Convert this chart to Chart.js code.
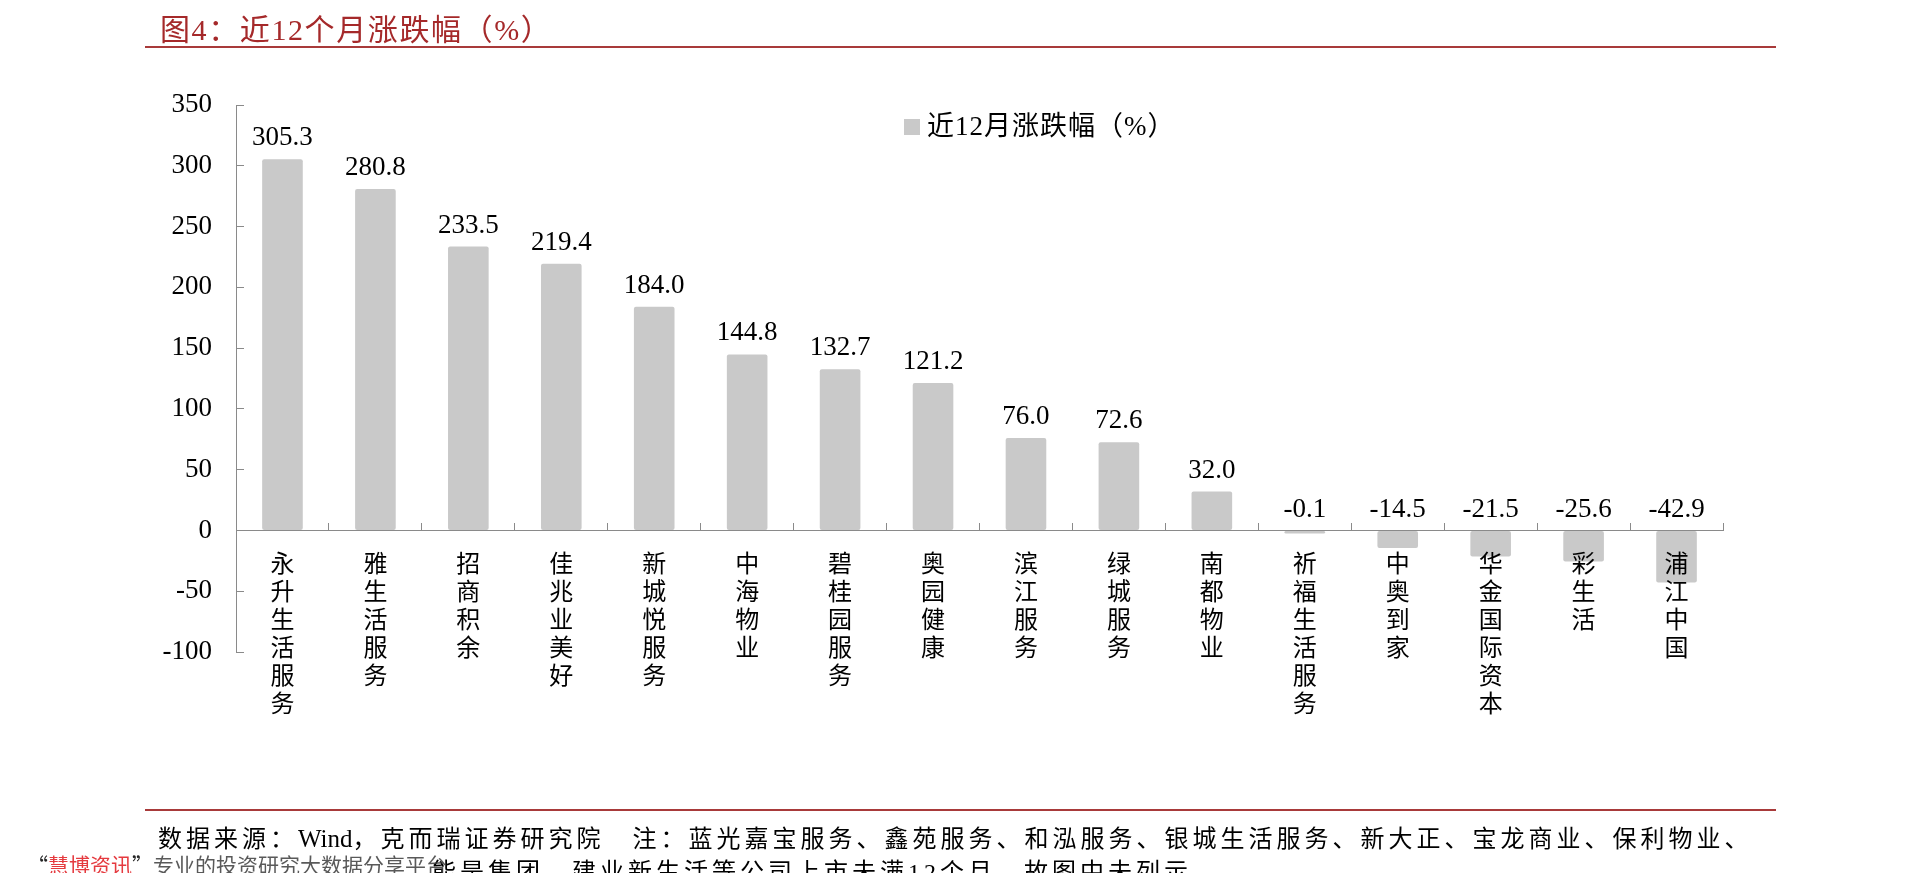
<!DOCTYPE html>
<html>
<head>
<meta charset="utf-8">
<script src="https://cdn.jsdelivr.net/npm/chart.js@4.4.1/dist/chart.umd.min.js"></script>
<style>
html,body{margin:0;padding:0;background:#fff;width:1920px;height:873px;overflow:hidden;}
#wrap{position:relative;width:1920px;height:873px;}
#c{position:absolute;left:0;top:0;}
.title{position:absolute;left:160px;top:11px;font-family:'Liberation Serif','Noto Sans CJK SC',serif;font-size:30px;letter-spacing:1.6px;line-height:38px;color:#a5292a;white-space:nowrap;}
.rule{position:absolute;left:145px;width:1631px;height:2px;background:#a83a3a;}
.legend{position:absolute;left:904px;top:110px;height:32px;white-space:nowrap;font-family:'Liberation Serif','Noto Sans CJK SC',serif;font-size:27px;letter-spacing:1px;line-height:32px;color:#000;}
.legend .sw{position:absolute;left:0;top:9px;width:16px;height:16px;background:#c9c9c9;}
.legend .tx{position:absolute;left:23px;top:0;}
.note{position:absolute;white-space:nowrap;font-family:'Liberation Serif','Noto Sans CJK SC',serif;font-size:24px;line-height:32px;letter-spacing:4px;color:#000;}
.note .en{letter-spacing:0;font-size:25px;}
.wm{position:absolute;left:27px;top:850px;white-space:nowrap;font-family:'Noto Sans CJK SC',sans-serif;font-size:21px;line-height:28px;color:rgba(60,60,60,0.85);}
.wm .r{color:#e53a3f;}
.wm .q{color:#222;}
</style>
</head>
<body>
<div id="wrap">
  <canvas id="c" width="1920" height="873"></canvas>
  <div class="title">图4：近12个月涨跌幅（%）</div>
  <div class="rule" style="top:46px;"></div>
  <div class="legend"><div class="sw"></div><div class="tx" id="legendText"></div></div>
  <div class="rule" style="top:809px;"></div>
  <div class="note" style="left:158px;top:823px;">数据来源：<span class="en">Wind</span>，克而瑞证券研究院　注：蓝光嘉宝服务、鑫苑服务、和泓服务、银城生活服务、新大正、宝龙商业、保利物业、</div>
  <div class="note" style="left:432px;top:856px;">能是集团、建业新生活等公司上市未满12个月，故图中未列示</div>
  <div class="wm"><span class="q">“</span><span class="r">慧博资讯</span><span class="q">”</span>专业的投资研究大数据分享平台</div>
</div>
<script>
const seriesName = '近12月涨跌幅（%）';
const categories = ['永升生活服务','雅生活服务','招商积余','佳兆业美好','新城悦服务','中海物业','碧桂园服务','奥园健康','滨江服务','绿城服务','南都物业','祈福生活服务','中奥到家','华金国际资本','彩生活','浦江中国'];
const changes = [305.3, 280.8, 233.5, 219.4, 184.0, 144.8, 132.7, 121.2, 76.0, 72.6, 32.0, -0.1, -14.5, -21.5, -25.6, -42.9];
const yMin = -100, yMax = 350, yStep = 50;

document.getElementById('legendText').textContent = seriesName;

const serif = "'Liberation Serif','Times New Roman',serif";
const cjk = "'Noto Sans CJK SC',sans-serif";
const axisGray = '#8a8a8a';

const valueLabels = {
  id: 'valueLabels',
  afterDatasetsDraw(chart) {
    const ctx = chart.ctx;
    const meta = chart.getDatasetMeta(0);
    const data = chart.data.datasets[0].data;
    ctx.save();
    ctx.font = "27px " + serif;
    ctx.fillStyle = '#000';
    ctx.textAlign = 'center';
    ctx.textBaseline = 'alphabetic';
    meta.data.forEach((bar, i) => {
      const top = Math.min(bar.y, bar.base);
      ctx.fillText(data[i].toFixed(1), bar.x, top - 14);
    });
    ctx.restore();
  }
};

new Chart(document.getElementById('c'), {
  type: 'bar',
  data: {
    labels: categories.map(s => s.split('')),
    datasets: [{
      label: seriesName,
      data: changes,
      backgroundColor: '#c9c9c9',
      borderWidth: 0,
      borderRadius: 2,
      borderSkipped: false,
      barPercentage: 0.437,
      categoryPercentage: 1.0,
      minBarLength: 3
    }]
  },
  options: {
    responsive: false,
    animation: false,
    devicePixelRatio: 1,
    layout: { padding: { left: 0, right: 197, top: 105, bottom: 221 } },
    plugins: { legend: { display: false }, tooltip: { enabled: false } },
    scales: {
      x: {
        position: { y: 0 },
        offset: true,
        grid: { display: true, offset: true, drawOnChartArea: false, drawTicks: true, tickLength: -8, tickColor: axisGray, tickWidth: 1 },
        border: { display: true, color: axisGray, width: 1 },
        ticks: {
          z: 1,
          autoSkip: false, maxRotation: 0, minRotation: 0, padding: 26,
          color: '#000',
          font: { family: cjk, size: 24, lineHeight: 1.1667 }
        }
      },
      y: {
        min: yMin, max: yMax,
        afterFit: s => { s.width = 236; },
        grid: { display: true, drawOnChartArea: false, drawTicks: true, tickLength: -8, tickColor: axisGray, tickWidth: 1 },
        border: { display: true, color: axisGray, width: 1 },
        ticks: {
          stepSize: yStep, padding: 32, color: '#000',
          font: { family: serif, size: 27 },
          callback: v => String(v)
        }
      }
    }
  },
  plugins: [valueLabels]
});
</script>
</body>
</html>
